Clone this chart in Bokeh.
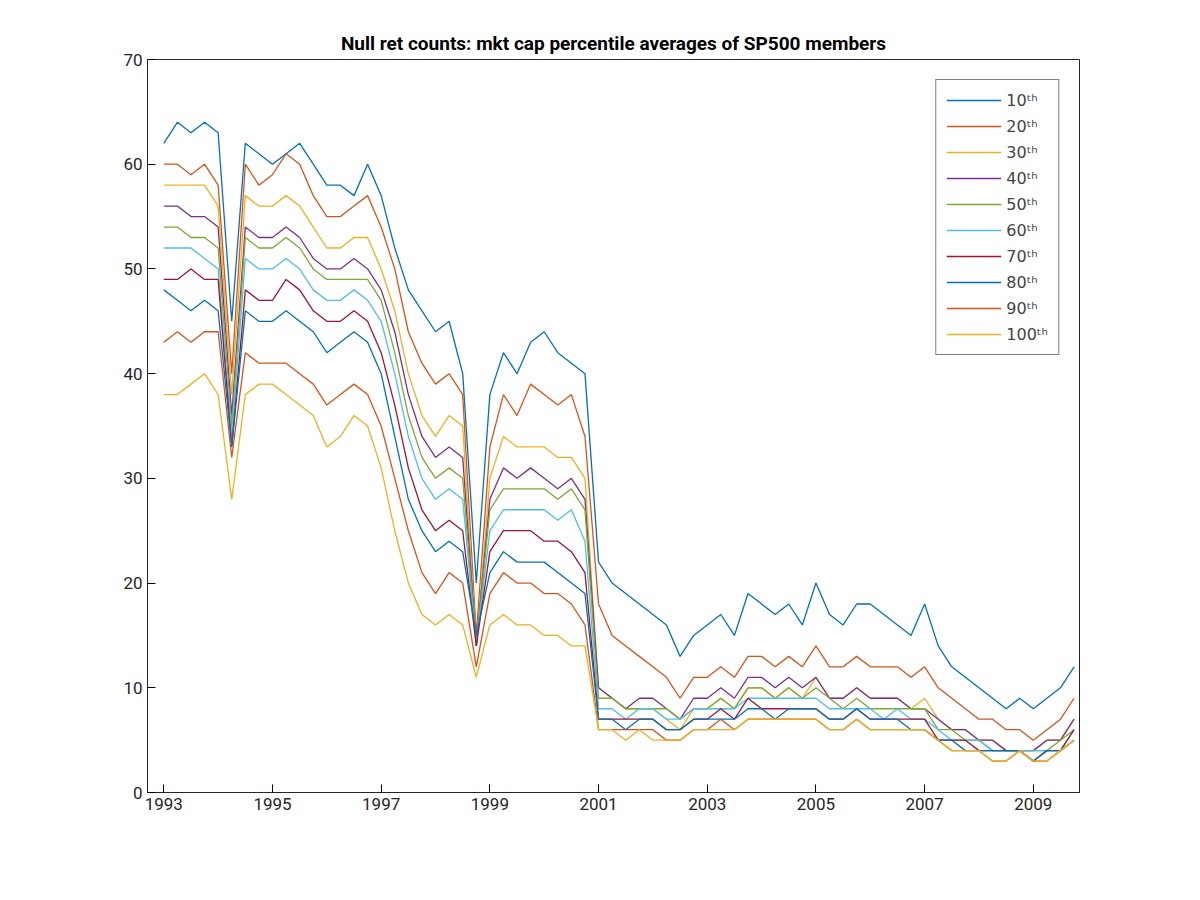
import numpy as np
from bokeh.plotting import figure
from bokeh.models import FixedTicker, Range1d
from bokeh.embed import file_html
from bokeh.resources import INLINE

# quarterly estimates, 1993.00 .. 2009.75
p10 = [62, 64, 63, 64, 63, 45, 62, 61, 60, 61, 62, 60, 58, 58, 57, 60,
       57, 52, 48, 46, 44, 45, 40, 20, 38, 42, 40, 43, 44, 42, 41, 40,
       22, 20, 19, 18, 17, 16, 13, 15, 16, 17, 15, 19, 18, 17, 18, 16,
       20, 17, 16, 18, 18, 17, 16, 15, 18, 14, 12, 11, 10, 9, 8, 9,
       8, 9, 10, 12]
p20 = [60, 60, 59, 60, 58, 40, 60, 58, 59, 61, 60, 57, 55, 55, 56, 57,
       54, 50, 44, 41, 39, 40, 38, 15, 33, 38, 36, 39, 38, 37, 38, 34,
       18, 15, 14, 13, 12, 11, 9, 11, 11, 12, 11, 13, 13, 12, 13, 12,
       14, 12, 12, 13, 12, 12, 12, 11, 12, 10, 9, 8, 7, 7, 6, 6,
       5, 6, 7, 9]
p30 = [58, 58, 58, 58, 56, 38, 57, 56, 56, 57, 56, 54, 52, 52, 53, 53,
       50, 46, 40, 36, 34, 36, 35, 14, 30, 34, 33, 33, 33, 32, 32, 30,
       10, 9, 8, 8, 8, 7, 6, 8, 8, 9, 8, 10, 10, 9, 10, 9,
       11, 9, 9, 10, 9, 9, 9, 8, 9, 7, 6, 6, 5, 5, 4, 4,
       4, 5, 5, 7]
p40 = [56, 56, 55, 55, 54, 36, 54, 53, 53, 54, 53, 51, 50, 50, 51, 50,
       48, 44, 38, 34, 32, 33, 32, 14, 28, 31, 30, 31, 30, 29, 30, 28,
       10, 9, 8, 9, 9, 8, 7, 9, 9, 10, 9, 11, 11, 10, 11, 10,
       11, 9, 9, 10, 9, 9, 9, 8, 8, 7, 6, 6, 5, 5, 4, 4,
       4, 5, 5, 7]
p50 = [54, 54, 53, 53, 52, 35, 53, 52, 52, 53, 52, 50, 49, 49, 49, 49,
       47, 42, 36, 32, 30, 31, 30, 14, 27, 29, 29, 29, 29, 28, 29, 27,
       9, 9, 8, 8, 8, 8, 7, 8, 8, 9, 8, 10, 10, 9, 10, 9,
       10, 9, 8, 9, 8, 8, 8, 8, 8, 6, 6, 5, 5, 4, 4, 4,
       4, 4, 5, 6]
p60 = [52, 52, 52, 51, 50, 34, 51, 50, 50, 51, 50, 48, 47, 47, 48, 47,
       45, 40, 34, 30, 28, 29, 28, 14, 25, 27, 27, 27, 27, 26, 27, 24,
       8, 8, 7, 8, 8, 7, 7, 8, 8, 8, 8, 9, 9, 9, 9, 9,
       9, 8, 8, 8, 8, 7, 8, 7, 7, 6, 5, 5, 5, 4, 4, 4,
       4, 4, 4, 6]
p70 = [49, 49, 50, 49, 49, 33, 48, 47, 47, 49, 48, 46, 45, 45, 46, 45,
       42, 37, 31, 27, 25, 26, 25, 14, 23, 25, 25, 25, 24, 24, 23, 21,
       7, 7, 7, 7, 7, 6, 6, 7, 7, 8, 7, 9, 8, 8, 8, 8,
       8, 7, 7, 8, 7, 7, 7, 7, 7, 5, 5, 5, 4, 4, 4, 4,
       3, 4, 4, 6]
p80 = [48, 47, 46, 47, 46, 33, 46, 45, 45, 46, 45, 44, 42, 43, 44, 43,
       40, 34, 28, 25, 23, 24, 23, 15, 21, 23, 22, 22, 22, 21, 20, 19,
       7, 7, 6, 7, 7, 6, 6, 7, 7, 7, 7, 8, 8, 7, 8, 8,
       8, 7, 7, 8, 7, 7, 7, 6, 6, 5, 5, 4, 4, 4, 4, 4,
       3, 4, 4, 5]
p90 = [43, 44, 43, 44, 44, 32, 42, 41, 41, 41, 40, 39, 37, 38, 39, 38,
       35, 30, 25, 21, 19, 21, 20, 12, 19, 21, 20, 20, 19, 19, 18, 16,
       6, 6, 6, 6, 6, 5, 5, 6, 6, 7, 6, 7, 7, 7, 7, 7,
       7, 6, 6, 7, 6, 6, 6, 6, 6, 5, 4, 4, 4, 3, 3, 4,
       3, 3, 4, 5]
p100 = [38, 38, 39, 40, 38, 28, 38, 39, 39, 38, 37, 36, 33, 34, 36, 35,
        31, 25, 20, 17, 16, 17, 16, 11, 16, 17, 16, 16, 15, 15, 14, 14,
        6, 6, 5, 6, 5, 5, 5, 6, 6, 6, 6, 7, 7, 7, 7, 7,
        7, 6, 6, 7, 6, 6, 6, 6, 6, 5, 4, 4, 4, 3, 3, 4,
        3, 3, 4, 5]

series = [p10, p20, p30, p40, p50, p60, p70, p80, p90, p100]
labels = ["10ᵗʰ", "20ᵗʰ", "30ᵗʰ", "40ᵗʰ", "50ᵗʰ",
          "60ᵗʰ", "70ᵗʰ", "80ᵗʰ", "90ᵗʰ", "100ᵗʰ"]
colors = ["#0072BD", "#D95319", "#EDB120", "#7E2F8E", "#77AC30",
          "#4DBEEE", "#A2142F", "#0072BD", "#D95319", "#EDB120"]
x_ticks = list(range(1993, 2010, 2))
y_ticks = list(range(0, 71, 10))

p = figure(width=1184, height=884, output_backend="svg", toolbar_location=None,
           title="Null ret counts: mkt cap percentile averages of SP500 members",
           x_range=Range1d(1992.7, 2009.85), y_range=Range1d(0, 70),
           min_border_left=147, min_border_right=105,
           min_border_top=59, min_border_bottom=92)
p.title.align = "center"
p.title.text_font = "Roboto"
p.title.text_font_size = "19px"
p.title.text_color = "#000000"
p.outline_line_color = "#262626"
p.outline_line_alpha = 1
p.grid.visible = False

for ax, ticks in ((p.xaxis, x_ticks), (p.yaxis, y_ticks)):
    ax.ticker = FixedTicker(ticks=ticks)
    ax.major_label_text_font = "Roboto"
    ax.major_label_text_font_size = "17px"
    ax.major_label_text_color = "#262626"
    ax.axis_line_color = "#262626"
    ax.major_tick_in = 8
    ax.major_tick_out = 0
    ax.minor_tick_line_color = None

for s, lab, col in zip(series, labels, colors):
    xs = 1993 + 0.25 * np.arange(len(s))
    p.line(xs, s, line_color=col, line_width=1.3, legend_label=lab)

p.legend.location = "top_right"
p.legend.margin = 20
p.legend.border_line_color = "#000000"
p.legend.label_text_font = "DejaVu Sans"
p.legend.label_text_font_size = "16px"
p.legend.glyph_width = 55
p.legend.label_height = 20
p.legend.spacing = 6
p.legend.padding = 10

open("out.html", "w").write(file_html(p, INLINE))
